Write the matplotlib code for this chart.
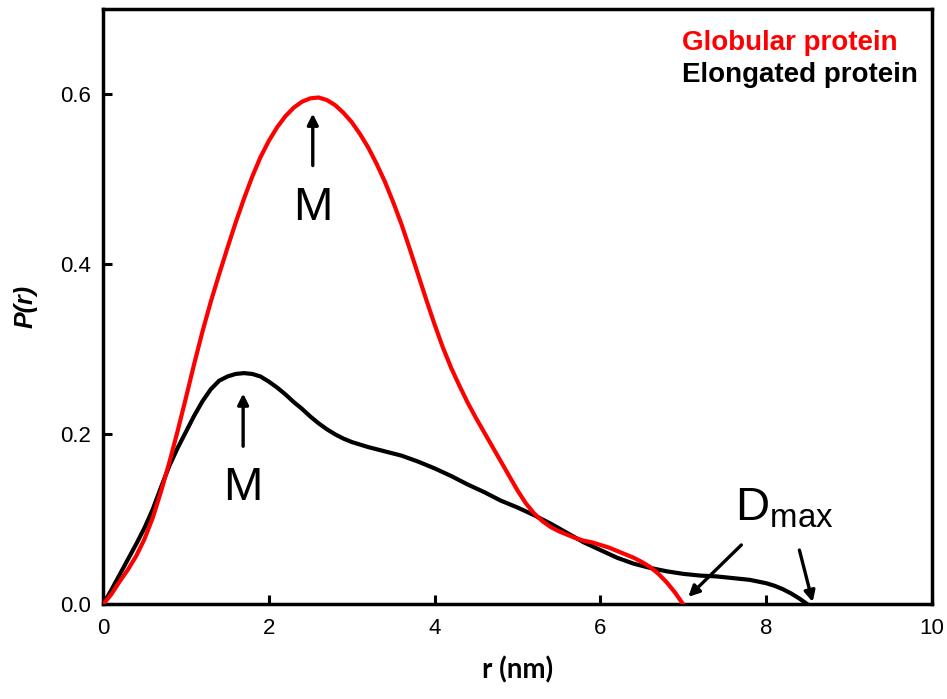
import matplotlib
matplotlib.use("Agg")
import matplotlib.pyplot as plt
import numpy as np

plt.rcParams['mathtext.fontset'] = 'custom'
plt.rcParams['mathtext.rm'] = 'Liberation Sans'
plt.rcParams['font.family'] = ['Liberation Sans', 'DejaVu Sans']

# Globular protein P(r)
r_glob = [0.0, 0.1, 0.2, 0.3, 0.4, 0.5, 0.6, 0.7, 0.8, 0.9, 1.0,
          1.1, 1.2, 1.3, 1.4, 1.5, 1.6, 1.7, 1.8, 1.9, 2.0,
          2.1, 2.2, 2.3, 2.4, 2.5, 2.6, 2.7, 2.8, 2.9, 3.0,
          3.1, 3.2, 3.3, 3.4, 3.5, 3.6, 3.7, 3.8, 3.9, 4.0,
          4.1, 4.2, 4.3, 4.4, 4.5, 4.6, 4.7, 4.8, 4.9, 5.0,
          5.1, 5.2, 5.3, 5.4, 5.5, 5.6, 5.7, 5.8, 5.9, 6.0,
          6.1, 6.2, 6.3, 6.4, 6.5, 6.6, 6.7, 6.8, 6.9, 7.0]
p_glob = [0.0, 0.012, 0.027, 0.041, 0.057, 0.077, 0.102, 0.133, 0.167, 0.204, 0.243,
          0.283, 0.321, 0.356, 0.388, 0.419, 0.449, 0.477, 0.503, 0.526, 0.545,
          0.561, 0.574, 0.584, 0.591, 0.595, 0.596, 0.593, 0.587, 0.578, 0.567,
          0.553, 0.537, 0.518, 0.497, 0.473, 0.447, 0.418, 0.388, 0.358, 0.329,
          0.302, 0.278, 0.257, 0.237, 0.219, 0.202, 0.185, 0.168, 0.151, 0.134,
          0.119, 0.107, 0.098, 0.091, 0.086, 0.082, 0.078, 0.075, 0.073, 0.070,
          0.067, 0.063, 0.059, 0.055, 0.050, 0.044, 0.036, 0.026, 0.014, 0.0]

# Elongated protein P(r)
r_elong = [0.0, 0.1, 0.2, 0.3, 0.4, 0.5, 0.6, 0.7, 0.8, 0.9, 1.0,
           1.1, 1.2, 1.3, 1.4, 1.5, 1.6, 1.7, 1.8, 1.9, 2.0,
           2.1, 2.2, 2.3, 2.4, 2.5, 2.6, 2.7, 2.8, 2.9, 3.0,
           3.2, 3.4, 3.6, 3.8, 4.0, 4.2, 4.4, 4.6, 4.8, 5.0,
           5.2, 5.4, 5.6, 5.8, 6.0, 6.2, 6.4, 6.6, 6.8, 7.0,
           7.2, 7.4, 7.6, 7.8, 7.9, 8.0, 8.1, 8.2, 8.3, 8.4, 8.5]
p_elong = [0.0, 0.017, 0.035, 0.053, 0.071, 0.090, 0.112, 0.138, 0.163, 0.184, 0.203,
           0.222, 0.239, 0.253, 0.263, 0.268, 0.271, 0.272, 0.271, 0.268, 0.262,
           0.255, 0.247, 0.238, 0.230, 0.221, 0.213, 0.206, 0.200, 0.195, 0.191,
           0.185, 0.180, 0.175, 0.168, 0.160, 0.151, 0.141, 0.132, 0.122, 0.114,
           0.105, 0.095, 0.084, 0.073, 0.064, 0.055, 0.048, 0.043, 0.039, 0.036,
           0.034, 0.033, 0.031, 0.029, 0.027, 0.025, 0.022, 0.018, 0.013, 0.007, 0.0]

x_ticks = [0, 2, 4, 6, 8, 10]
y_ticks = [0.0, 0.2, 0.4, 0.6]

fig = plt.figure(figsize=(9.47, 6.99), dpi=100)
ax = fig.add_axes([0.1088, 0.1352, 0.8754, 0.8519])

ax.plot(r_elong, p_elong, color='black', lw=3, zorder=3, solid_joinstyle='round')
ax.plot(r_glob, p_glob, color='#ff0000', lw=3, zorder=4, solid_joinstyle='round')

ax.set_xlim(0, 10)
ax.set_ylim(0, 0.7)
ax.set_xticks(x_ticks)
ax.set_yticks(y_ticks)
ax.set_xticklabels([str(t) for t in x_ticks])
ax.set_yticklabels(['%.1f' % t for t in y_ticks])
ax.tick_params(direction='in', length=6.5, width=2.2, labelsize=16, pad=9,
               top=False, right=False)
ax.tick_params(axis='x', pad=10)
for s in ax.spines.values():
    s.set_linewidth(2.5)

ax.set_xlabel('r (nm)', fontsize=20, fontweight='bold', family='Lato', labelpad=12)
ax.set_ylabel('P(r)', fontsize=18, fontweight='bold', style='italic', labelpad=16)

# legend as coloured text
ax.text(0.698, 0.931, 'Globular protein', color='#ff0000', fontsize=20,
        fontweight='bold', transform=ax.transAxes, va='baseline')
ax.text(0.698, 0.877, 'Elongated protein', color='black', fontsize=20,
        fontweight='bold', transform=ax.transAxes, va='baseline')

arrow = dict(arrowstyle='-|>', color='black', lw=2.4, mutation_scale=16,
             shrinkA=0, shrinkB=0)

# maximum markers
ax.annotate('', xy=(2.53, 0.577), xytext=(2.53, 0.516), arrowprops=arrow)
ax.text(2.53, 0.452, 'M', fontsize=34, ha='center', va='baseline')
ax.annotate('', xy=(1.69, 0.248), xytext=(1.69, 0.186), arrowprops=arrow)
ax.text(1.69, 0.123, 'M', fontsize=34, ha='center', va='baseline')

# Dmax
ax.text(7.62, 0.099, r'$\mathrm{D}_{\mathrm{max}}$', fontsize=34, ha='left',
        va='baseline')
ax.annotate('', xy=(7.06, 0.009), xytext=(7.70, 0.070), arrowprops=arrow)
ax.annotate('', xy=(8.56, 0.003), xytext=(8.40, 0.064), arrowprops=arrow)

fig.savefig('out.png', dpi=100)
